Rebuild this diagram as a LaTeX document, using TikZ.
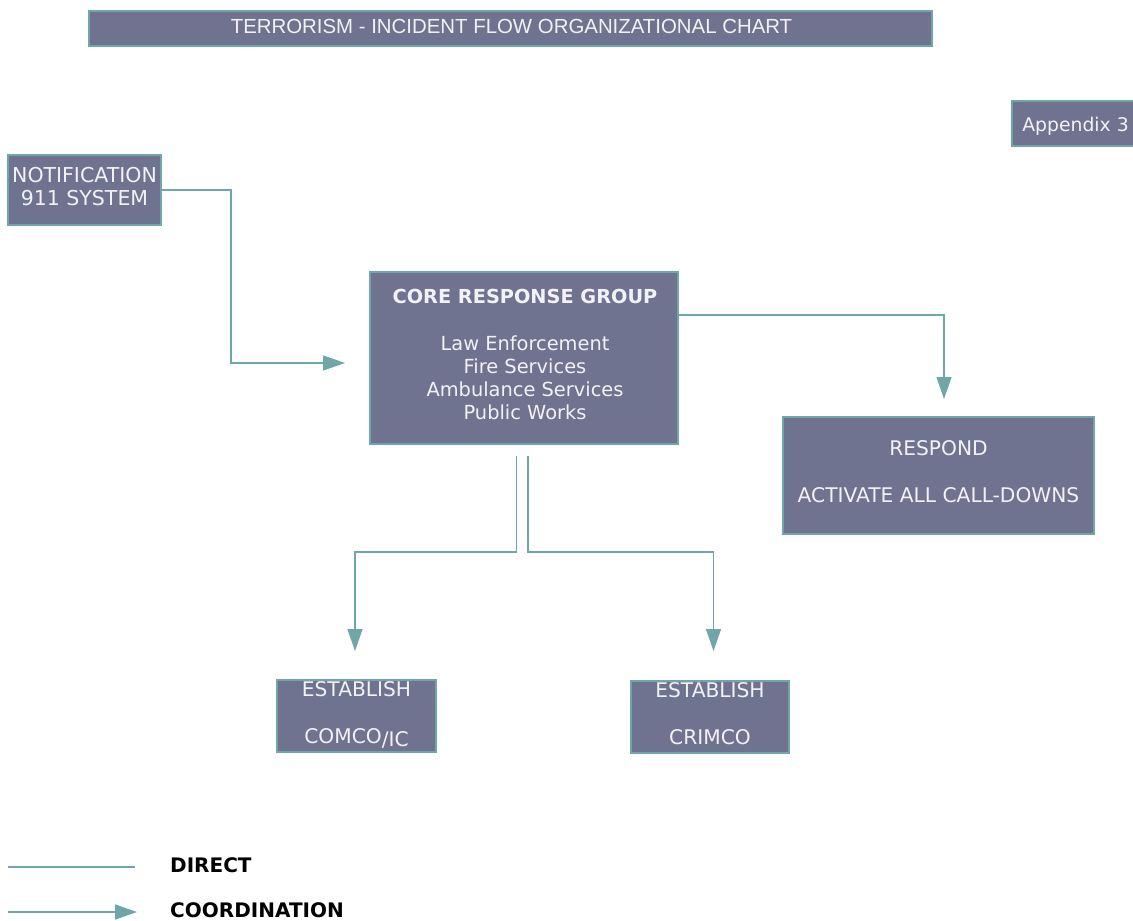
\documentclass[tikz,border=0pt]{standalone}
\usepackage{fontspec}
\setmainfont{DejaVu Sans}
\newfontfamily\headfont{Liberation Sans}
\usetikzlibrary{arrows.meta}
\definecolor{boxfill}{RGB}{111,115,143}
\definecolor{edge}{RGB}{111,166,168}
\definecolor{boxtext}{RGB}{242,242,246}
\begin{document}
\begin{tikzpicture}[x=1pt,y=-1pt,
  box/.style={draw=edge, line width=1.3pt, fill=boxfill, inner sep=0pt},
  lbl/.style={text=boxtext, inner sep=0pt, anchor=base, font=\fontsize{20.2}{24}\selectfont},
  small/.style={lbl, font=\fontsize{19.4}{23}\selectfont},
  link/.style={draw=edge, line width=1.3pt},
  coord/.style={link, -{Triangle[length=22pt,width=15pt]}},
  legend/.style={text=black, inner sep=0pt, anchor=base west, font=\fontsize{20}{24}\selectfont\bfseries}]
\useasboundingbox (0,0) rectangle (1133,921);

% ---- boxes ----
\node[box, minimum width=843pt, minimum height=35pt] (title) at (510.5,28.5) {};
\node[lbl, font=\headfont\fontsize{20.4}{24}\selectfont] (titletext) at (511.5,33) {TERRORISM - INCIDENT FLOW ORGANIZATIONAL CHART};

\node[box, minimum width=124pt, minimum height=45pt] (app) at (1074,123.5) {};
\node[lbl, font=\fontsize{18.8}{22}\selectfont] (apptext) at (1075.5,131) {Appendix 3};

\node[box, minimum width=153pt, minimum height=70pt] (notif) at (84.5,190) {};
\node[lbl, font=\fontsize{20.5}{24}\selectfont] (notif1) at (84.5,182) {NOTIFICATION};
\node[lbl, font=\fontsize{20.5}{24}\selectfont] (notif2) at (84.5,205.5) {911 SYSTEM};

\node[box, minimum width=308pt, minimum height=172pt] (core) at (524,358) {};
\node[lbl, font=\fontsize{19.3}{22}\selectfont\bfseries] (core0) at (525,303) {CORE RESPONSE GROUP};
\node[small] (core1) at (525,350.5) {Law Enforcement};
\node[small] (core2) at (525,373.5) {Fire Services};
\node[small] (core3) at (525,396.5) {Ambulance Services};
\node[small] (core4) at (525,419.5) {Public Works};

\node[box, minimum width=311pt, minimum height=117pt] (resp) at (938.5,475.5) {};
\node[lbl] (resp1) at (938.5,455) {RESPOND};
\node[lbl] (resp2) at (938.5,502) {ACTIVATE ALL CALL-DOWNS};

\node[box, minimum width=159pt, minimum height=72pt] (comco) at (356.5,716) {};
\node[lbl] (comco1) at (356.5,696) {ESTABLISH};
\node[lbl] (comco2) at (356.5,743.5) {COMCO\raisebox{-2.5pt}{/IC}};

\node[box, minimum width=158pt, minimum height=72pt] (crimco) at (710,717) {};
\node[lbl] (crimco1) at (710,697) {ESTABLISH};
\node[lbl] (crimco2) at (710,744) {CRIMCO};

% ---- connector ends ----
\coordinate (nbend) at (231,190);
\coordinate (ntip) at (345,363);
\coordinate (rstart) at (678,315);
\coordinate (rtip) at (944,399);
\coordinate (lstart) at (516.5,456);
\coordinate (ltip) at (355,651);
\coordinate (cstart) at (528,456);
\coordinate (ctip) at (713.5,651);

% ---- connectors ----
\draw[coord] (notif.east) -- (nbend) |- (ntip);
\draw[coord] (rstart) -| (rtip);
\draw[coord] (lstart) -- (516.5,552) -| (ltip);
\draw[coord] (cstart) -- (528,552) -| (ctip);

% ---- legend ----
\coordinate (d0) at (8,867);
\coordinate (d1) at (135,867);
\coordinate (c0) at (8,912);
\coordinate (c1) at (137,912);
\draw[link] (d0) -- (d1);
\draw[coord] (c0) -- (c1);
\node[legend] (ldirect) at (170,872.5) {DIRECT};
\node[legend] (lcoord) at (170,917) {COORDINATION};
\end{tikzpicture}
\end{document}
